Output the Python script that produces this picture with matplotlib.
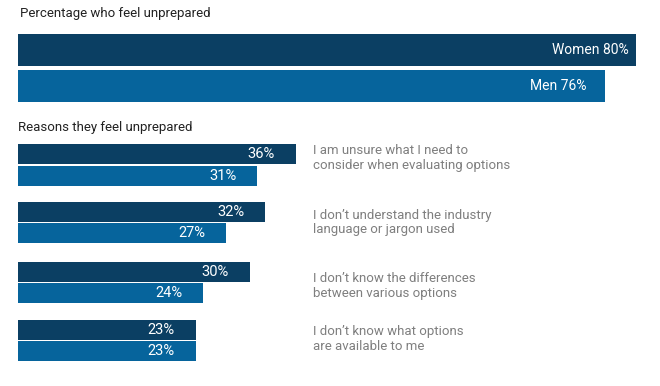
import matplotlib.pyplot as plt

# data
top_labels = ['Women', 'Men']
top_values = [80, 76]

reasons = ['I am unsure what I need to\nconsider when evaluating options',
           'I don\u2019t understand the industry\nlanguage or jargon used',
           'I don\u2019t know the differences\nbetween various options',
           'I don\u2019t know what options\nare available to me']
women = [36, 32, 30, 23]
men = [31, 27, 24, 23]

dark = '#0b3f63'
light = '#06649c'
grey = '#7f7f7f'

plt.rcParams['font.family'] = ['Roboto', 'DejaVu Sans']
fs = 9.5

fig = plt.figure(figsize=(6.6, 3.86), dpi=100)
ax = fig.add_axes([0, 0, 1, 1])
# x in percent, y in pixel rows of the figure
px = 7.72
ax.set_xlim(-18 / px, (660 - 18) / px)
ax.set_ylim(386, 0)
ax.axis('off')

# top section
ax.text(2 / px, 14, 'Percentage who feel unprepared', fontsize=fs,
        color='#222222', va='center', ha='left')
top_y = [50, 86]
ax.barh(top_y, top_values, height=32, left=0, color=[dark, light])
offs = [0.9, 2.4]
for y, v, lab, o in zip(top_y, top_values, top_labels, offs):
    ax.text(v - o, y, f'{lab} {v}%', color='white', fontsize=fs + 0.5,
            ha='right', va='center')

# reasons section
ax.text(0, 128, 'Reasons they feel unprepared', fontsize=fs,
        color='#222222', va='center', ha='left')
dark_y = [154, 212, 272, 330]
light_y = [175.5, 233, 293, 351]
ax.barh(dark_y, women, height=20, color=dark)
ax.barh(light_y, men, height=20, color=light)
for y, v in zip(dark_y, women):
    ax.text(v - 2.7, y, f'{v}%', color='white', fontsize=10.5, ha='right', va='center')
for y, v in zip(light_y, men):
    ax.text(v - 2.7, y, f'{v}%', color='white', fontsize=10.5, ha='right', va='center')
text_y = [158, 222, 286, 339]
for y, r in zip(text_y, reasons):
    ax.text((313 - 18) / px, y, r, color=grey, fontsize=fs,
            ha='left', va='center', linespacing=1.1)

fig.savefig('out.png', dpi=100)
